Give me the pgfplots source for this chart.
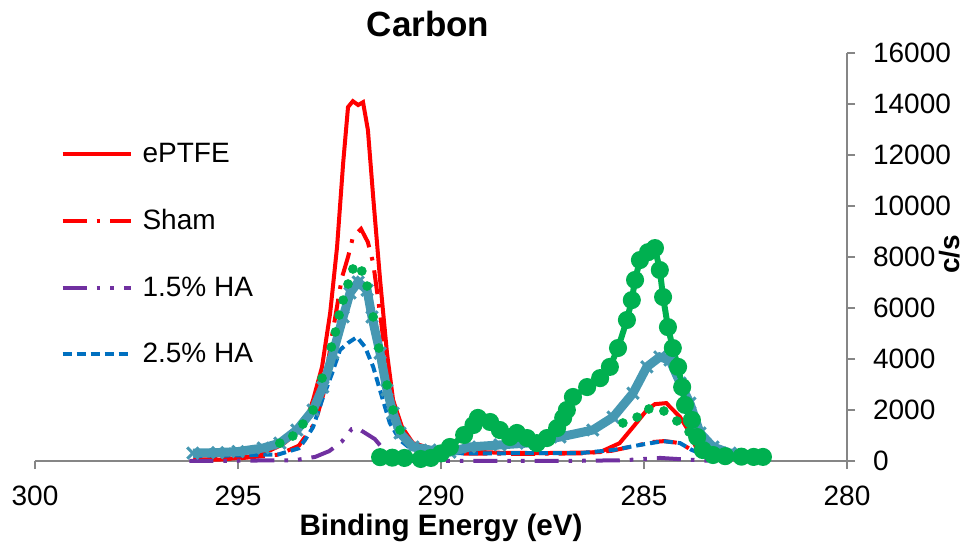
\documentclass[border=0pt]{standalone}
\usepackage{fontspec}
\setmainfont{Liberation Sans}
\usepackage{pgfplots}
\pgfplotsset{compat=1.18}
\definecolor{xred}{RGB}{255,0,0}
\definecolor{xpurple}{RGB}{112,48,160}
\definecolor{xblue}{RGB}{0,112,192}
\definecolor{xgreen}{RGB}{0,176,80}
\definecolor{xteal}{RGB}{70,152,178}
\definecolor{axgray}{RGB}{134,134,134}

\begin{document}
\begin{tikzpicture}
\path[use as bounding box] (-17.5pt,-42.5pt) rectangle (464.5pt,230.5pt);
\begin{axis}[
  at={(0,0)}, anchor=south west,
  scale only axis, width=406pt, height=204pt,
  x dir=reverse,
  xmin=280, xmax=300, ymin=0, ymax=16000,
  axis x line*=bottom, axis y line*=right,
  axis line style={axgray, line width=0.9pt},
  every tick/.style={axgray, line width=0.9pt},
  tick align=outside, major tick length=4pt,
  xtick={280,285,290,295,300},
  ytick={0,2000,4000,6000,8000,10000,12000,14000,16000},
  scaled y ticks=false,
  /pgf/number format/assume math mode=true,
  /pgf/number format/1000 sep={},
  tick label style={font=\fontsize{14}{17}\selectfont, black},
  xticklabel style={yshift=-5pt},
  yticklabel style={xshift=5.5pt},
  title={Carbon},
  title style={font=\fontsize{17.5}{21}\bfseries, at={(0.484,1)}, anchor=center, yshift=8.5pt},
  xlabel={Binding Energy (eV)},
  xlabel style={font=\fontsize{14.8}{17}\bfseries, at={(0.5,0)}, anchor=center, yshift=-33.5pt},
  ylabel={c/s},
  ylabel style={font=\fontsize{14}{17}\bfseries, at={(1.127,0.507)}, anchor=center},
  clip=false,
  legend cell align=left,
  legend style={at={(0.031,0.79)}, anchor=north west, draw=none, fill=none,
    font=\fontsize{14}{17}\selectfont, row sep=18pt, column sep=3pt, inner sep=0pt},
  legend image code/.code={\draw[line width=2pt,#1] (0pt,0pt) -- (34pt,0pt);},
]
% ePTFE
\addplot[xred, line width=2pt] coordinates {
(296.1,30) (295.4,60) (294.8,150) (294.3,350) (293.9,650) (293.55,1100) (293.3,1700)
(293.15,2390) (292.93,3690) (292.73,5800) (292.56,8390) (292.41,11680) (292.29,13880)
(292.17,14110) (292.04,13960) (291.92,14070) (291.80,12980) (291.67,10350) (291.50,7100)
(291.33,4230) (291.18,2390) (290.96,1330) (290.69,700) (290.27,510) (289.5,380)
(288.5,320) (287.5,310) (286.5,330) (286.08,350) (285.6,700) (285.27,1330) (284.93,2000)
(284.73,2230) (284.45,2270) (284.11,1720) (283.87,1100) (283.69,430) (283.55,200)
};
\addlegendentry{ePTFE}
% Sham
\addplot[xred, line width=2pt, dash pattern=on 12pt off 5pt on 1.8pt off 5pt] coordinates {
(296.1,50) (295,100) (294,250) (293.5,600) (293.1,1500) (292.9,2600) (292.68,4940)
(292.44,7190) (292.29,8000) (292.17,8780) (291.97,9100) (291.8,8580) (291.67,7760)
(291.6,6940) (291.48,5530) (291.33,3570) (291.18,1880) (291.0,900) (290.7,450)
(290.2,300) (288,280) (286.5,300) (285.8,400) (285.2,600) (284.78,745) (284.5,780)
(284.1,700) (283.85,450) (283.6,250)
};
\addlegendentry{Sham}
% 1.5% HA
\addplot[xpurple, line width=2pt, dash pattern=on 12pt off 5pt on 1.8pt off 5pt on 1.8pt off 5pt] coordinates {
(296.2,0) (295.5,0) (294.5,20) (293.6,30) (293.1,160) (292.75,390) (292.45,750)
(292.2,1250) (292.05,1290) (291.95,1180) (291.63,860) (291.38,390) (291.1,100)
(290.7,0) (289,0) (287,0) (285.5,30) (284.6,120) (284.0,60) (283.3,0)
};
\addlegendentry{1.5\% HA}
% 2.5% HA
\addplot[xblue, line width=2pt, dash pattern=on 4.5pt off 2.5pt] coordinates {
(296.1,200) (295,220) (294,260) (293.5,500) (293.35,820) (293.15,1330) (292.93,2390)
(292.68,3450) (292.49,4350) (292.29,4630) (292.07,4860) (291.87,4470) (291.67,3690)
(291.43,2390) (291.26,1490) (291.01,820) (290.76,500) (290.27,310) (289,300)
(287.4,310) (286.58,310) (285.76,430) (285.10,630) (284.53,780) (284.11,700)
(283.82,430) (283.62,310) (283.3,200)
};
\addlegendentry{2.5\% HA}
% teal crosses
\addplot[xteal, line width=4.5pt, mark=x, mark size=4pt, mark options={line width=1.5pt}, forget plot] coordinates {
(296.11,310) (295.5,330) (295.0,370) (294.38,510) (293.97,700) (293.55,1215)
(293.15,2000) (292.91,2900) (292.66,4230) (292.41,5650) (292.24,6590) (292.04,7020)
(291.82,6700) (291.70,5650) (291.50,4230) (291.33,2780) (291.18,1880) (291.01,1100)
(290.69,550) (290.27,430) (289.78,350) (289.3,550) (288.55,630) (287.9,700)
(287.07,940) (286.26,1215) (285.76,1720) (285.27,2660) (284.93,3690) (284.61,4080)
(284.36,3960) (284.11,3060) (283.87,2270) (283.62,1100) (283.30,550) (282.88,310)
(282.07,160)
};
% green markers only
\addplot[only marks, xgreen, mark=*, mark size=2.2pt, forget plot] coordinates {
(293.97,700) (293.65,980) (293.4,1450) (293.15,2000) (292.93,3250) (292.7,4470)
(292.6,5060) (292.51,5720) (292.41,6310) (292.29,6940) (292.17,7530) (291.95,7450)
(291.82,6860) (291.67,5650) (291.53,4430) (291.33,2980) (291.18,2000) (291.01,1215)
(285.52,1490) (285.17,1720) (284.88,2040) (284.51,1960) (284.19,1570) (283.89,1140)
};
% green line with markers
\addplot[xgreen, line width=3pt, mark=*, mark size=3pt, forget plot] coordinates {
(291.5,150) (291.2,130) (290.9,120) (290.5,80) (290.25,120) (290.0,300) (289.78,550)
(289.43,1020) (289.2,1410) (289.09,1690) (288.79,1530) (288.55,1215) (288.3,940)
(288.13,1100) (287.88,900) (287.64,700) (287.39,900) (287.14,1290) (286.99,1690)
(286.9,2000) (286.75,2510) (286.40,2900) (286.08,3250) (285.84,3690) (285.64,4430)
(285.42,5530) (285.30,6310) (285.22,7100) (285.10,7880) (284.90,8190) (284.73,8350)
(284.61,7490) (284.53,6430) (284.41,5250) (284.29,4430) (284.16,3690) (284.06,2900)
(283.99,2200) (283.82,1610) (283.69,940) (283.55,430) (283.30,235) (283.0,190)
(282.6,170) (282.3,160) (282.07,160)
};
\end{axis}
\end{tikzpicture}
\end{document}
